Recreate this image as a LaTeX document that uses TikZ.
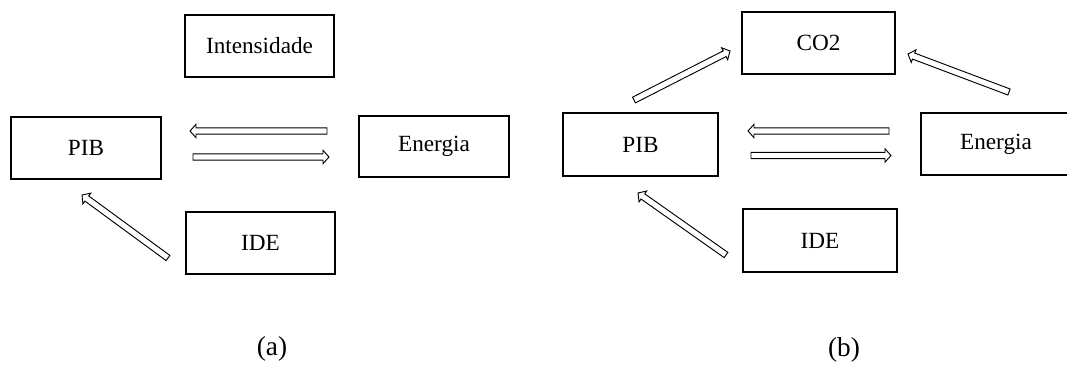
\documentclass[tikz,border=0pt]{standalone}
\usepackage{fontspec}
\setmainfont{Liberation Serif}
\usetikzlibrary{calc}
\tikzset{
  box/.style={draw=black, line width=1.5pt, inner sep=0pt, font=\fontsize{17.4}{20}\selectfont},
  harr/.style={draw=black, line width=0.7pt, fill=white, line join=miter},
  captxt/.style={font=\fontsize{20.5}{24}\selectfont}
}
\newcommand{\harrow}[2]{%
  \coordinate (hh) at ($(#2)!4.5pt!(#1)$);
  \draw[harr] ($(#1)!2.4pt!90:(#2)$) -- ($(hh)!2.4pt!-90:(#1)$) -- ($(hh)!5pt!-90:(#1)$) -- (#2)
    -- ($(hh)!5pt!90:(#1)$) -- ($(hh)!2.4pt!90:(#1)$) -- ($(#1)!2.4pt!-90:(#2)$) -- cycle;}
\begin{document}
\begin{tikzpicture}[x=0.75pt,y=-0.75pt]
\useasboundingbox (0,0) rectangle (1067,364);
% panel (a)
\node[box, minimum width=111.75pt, minimum height=46.5pt] (int) at (259.5,46) {Intensidade};
\node[box, minimum width=112.5pt, minimum height=46.5pt] (pibA) at (86,148) {PIB};
\node[box, minimum width=112.5pt, minimum height=45.75pt] (eneA) at (434,146.5) {Energia};
\node[box, minimum width=111.75pt, minimum height=46.5pt] (ideA) at (260.5,243) {IDE};
\coordinate (a1s) at (327,131); \coordinate (a1e) at (190,131);
\coordinate (a2s) at (193,157); \coordinate (a2e) at (329,157);
\coordinate (a3s) at (168,258); \coordinate (a3e) at (82,195);
\harrow{a1s}{a1e}
\harrow{a2s}{a2e}
\harrow{a3s}{a3e}
\node[captxt] (capA) at (272,349) {(a)};
% panel (b)
\node[box, minimum width=114.75pt, minimum height=46.5pt] (co2) at (818.5,43) {CO2};
\node[box, minimum width=116.25pt, minimum height=47.25pt] (pibB) at (640.5,144.5) {PIB};
\node[box, minimum width=112.5pt, minimum height=46.5pt] (eneB) at (996,144) {Energia};
\node[box, minimum width=115.5pt, minimum height=47.25pt] (ideB) at (820,240.5) {IDE};
\coordinate (b1s) at (889,131); \coordinate (b1e) at (748,131);
\coordinate (b2s) at (751,155.5); \coordinate (b2e) at (891,155.5);
\coordinate (b3s) at (634,100); \coordinate (b3e) at (730,51);
\coordinate (b4s) at (1009,92); \coordinate (b4e) at (908,54);
\coordinate (b5s) at (726,255); \coordinate (b5e) at (638,193);
\harrow{b1s}{b1e}
\harrow{b2s}{b2e}
\harrow{b3s}{b3e}
\harrow{b4s}{b4e}
\harrow{b5s}{b5e}
\node[captxt] (capB) at (844,350) {(b)};
\end{tikzpicture}
\end{document}
